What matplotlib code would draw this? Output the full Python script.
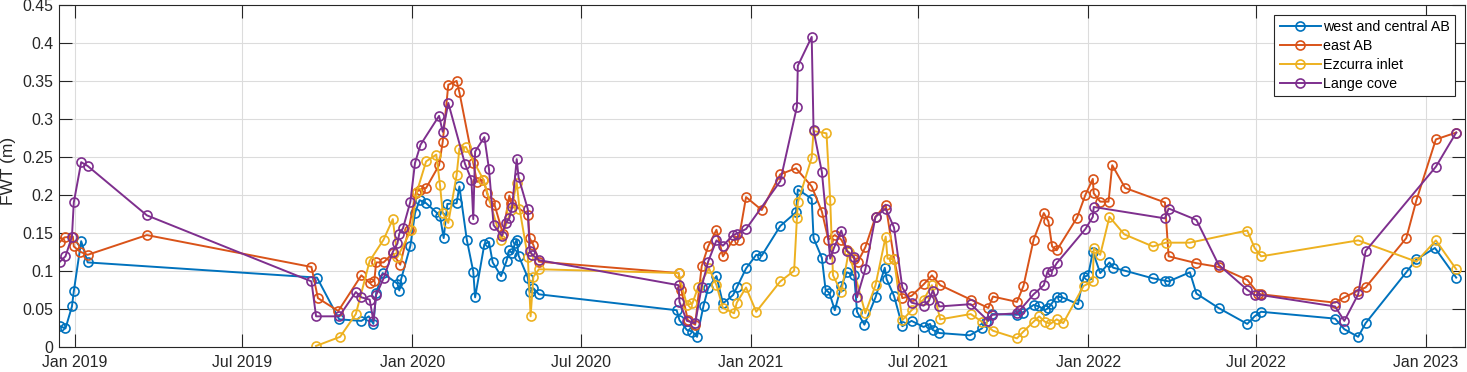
import matplotlib
matplotlib.use("Agg")
import matplotlib.pyplot as plt
import matplotlib.dates as mdates
import matplotlib.ticker as mticker
import pandas as pd

# ---- data: days since 2019-01-01, FWT (m) ----
base_date = "2019-01-01"

west_days = [-16, -10, -3, -1, 7, 14, 262, 286, 310, 318,
             323, 326, 333, 349, 351, 353, 363, 368, 373, 380,
             391, 395, 399, 403, 413, 416, 424, 431, 433, 443,
             448, 452, 461, 467, 470, 473, 476, 478, 480, 490,
             492, 496, 502, 651, 654, 662, 668, 673, 680, 685,
             694, 701, 712, 716, 726, 737, 743, 763, 780, 782,
             797, 799, 808, 812, 816, 822, 829, 835, 843, 846,
             854, 866, 876, 878, 886, 895, 905, 918, 925, 928,
             935, 968, 981, 986, 992, 1019, 1025, 1037, 1043, 1049,
             1053, 1056, 1062, 1068, 1085, 1091, 1096, 1101, 1109, 1119,
             1123, 1136, 1166, 1179, 1183, 1206, 1213, 1237, 1268, 1276,
             1283, 1363, 1373, 1388, 1396, 1440, 1451, 1471, 1494]
west_fwt = [0.027, 0.024, 0.053, 0.073, 0.139, 0.111, 0.091, 0.036, 0.034, 0.040,
            0.030, 0.071, 0.097, 0.083, 0.074, 0.089, 0.133, 0.176, 0.193, 0.189,
            0.177, 0.172, 0.143, 0.188, 0.189, 0.211, 0.141, 0.099, 0.065, 0.135,
            0.138, 0.111, 0.093, 0.113, 0.127, 0.123, 0.136, 0.141, 0.120, 0.091,
            0.072, 0.077, 0.069, 0.048, 0.035, 0.022, 0.020, 0.013, 0.054, 0.077,
            0.093, 0.057, 0.068, 0.078, 0.103, 0.121, 0.120, 0.159, 0.177, 0.207,
            0.195, 0.143, 0.117, 0.075, 0.071, 0.048, 0.080, 0.098, 0.094, 0.046,
            0.029, 0.065, 0.104, 0.089, 0.067, 0.027, 0.034, 0.026, 0.030, 0.022,
            0.018, 0.015, 0.024, 0.032, 0.043, 0.042, 0.045, 0.055, 0.053, 0.048,
            0.051, 0.056, 0.066, 0.065, 0.056, 0.092, 0.094, 0.125, 0.097, 0.111,
            0.104, 0.100, 0.090, 0.087, 0.086, 0.098, 0.070, 0.051, 0.030, 0.040,
            0.046, 0.037, 0.023, 0.013, 0.031, 0.098, 0.115, 0.130, 0.091]

east_days = [-16, -11, -2, -1, 6, 14, 78, 256, 263, 285,
             310, 319, 324, 326, 334, 344, 352, 361, 369, 373,
             380, 394, 398, 404, 413, 416, 431, 435, 442, 446,
             449, 454, 463, 470, 472, 490, 492, 496, 502, 653,
             656, 663, 671, 678, 685, 694, 701, 712, 718, 726,
             743, 763, 780, 797, 808, 815, 822, 829, 835, 843,
             847, 855, 866, 877, 886, 895, 905, 918, 927, 936,
             969, 988, 993, 1019, 1026, 1037, 1048, 1053, 1057, 1062,
             1084, 1093, 1101, 1102, 1109, 1118, 1122, 1136, 1179, 1183,
             1213, 1237, 1268, 1280, 1283, 1363, 1373, 1388, 1396, 1440,
             1451, 1472, 1494]
east_fwt = [0.138, 0.144, 0.145, 0.132, 0.125, 0.121, 0.147, 0.105, 0.064, 0.047,
            0.094, 0.084, 0.087, 0.111, 0.111, 0.123, 0.108, 0.154, 0.203, 0.207,
            0.209, 0.239, 0.270, 0.345, 0.350, 0.335, 0.242, 0.217, 0.220, 0.202,
            0.191, 0.187, 0.149, 0.199, 0.189, 0.174, 0.143, 0.134, 0.112, 0.097,
            0.075, 0.035, 0.029, 0.106, 0.132, 0.154, 0.119, 0.141, 0.141, 0.197,
            0.180, 0.227, 0.235, 0.211, 0.178, 0.141, 0.147, 0.141, 0.127, 0.116,
            0.112, 0.131, 0.171, 0.187, 0.116, 0.064, 0.067, 0.082, 0.094, 0.081,
            0.062, 0.051, 0.066, 0.059, 0.080, 0.141, 0.176, 0.165, 0.132, 0.127,
            0.170, 0.200, 0.221, 0.202, 0.191, 0.191, 0.239, 0.209, 0.190, 0.119,
            0.110, 0.105, 0.088, 0.070, 0.069, 0.058, 0.065, 0.074, 0.078, 0.143,
            0.193, 0.273, 0.282]

ezcurra_days = [261, 287, 304, 319, 334, 344, 349, 364, 370, 380,
                391, 395, 398, 404, 413, 416, 423, 442, 461, 472,
                478, 481, 490, 493, 496, 502, 653, 662, 668, 674,
                686, 694, 701, 713, 716, 726, 737, 763, 778, 781,
                782, 797, 799, 813, 817, 820, 829, 837, 855, 866,
                877, 879, 886, 895, 905, 918, 927, 936, 969, 981,
                993, 1019, 1026, 1037, 1043, 1049, 1055, 1062, 1069, 1091,
                1101, 1102, 1109, 1119, 1135, 1166, 1180, 1206, 1268, 1276,
                1283, 1388, 1451, 1472, 1494]
ezcurra_fwt = [0.001, 0.013, 0.043, 0.113, 0.141, 0.168, 0.118, 0.154, 0.204, 0.244,
               0.253, 0.213, 0.176, 0.163, 0.226, 0.261, 0.263, 0.220, 0.141, 0.180,
               0.216, 0.182, 0.118, 0.040, 0.092, 0.102, 0.097, 0.055, 0.057, 0.078,
               0.103, 0.081, 0.051, 0.044, 0.058, 0.078, 0.046, 0.086, 0.100, 0.169,
               0.190, 0.249, 0.284, 0.281, 0.193, 0.094, 0.072, 0.125, 0.044, 0.081,
               0.145, 0.116, 0.115, 0.035, 0.048, 0.062, 0.081, 0.036, 0.043, 0.033,
               0.021, 0.011, 0.020, 0.033, 0.040, 0.033, 0.030, 0.036, 0.031, 0.080,
               0.086, 0.130, 0.121, 0.171, 0.148, 0.132, 0.137, 0.137, 0.153, 0.130,
               0.119, 0.140, 0.112, 0.140, 0.102]

lange_days = [-16, -10, -3, -1, 7, 14, 78, 256, 261, 286,
              304, 310, 319, 323, 326, 334, 344, 349, 351, 355,
              363, 368, 374, 394, 398, 404, 422, 429, 431, 433,
              443, 448, 453, 462, 466, 470, 473, 478, 480, 490,
              492, 495, 502, 653, 654, 662, 671, 678, 685, 694,
              701, 712, 716, 726, 763, 781, 782, 797, 799, 808,
              817, 821, 829, 835, 843, 846, 855, 866, 877, 886,
              895, 905, 918, 924, 928, 935, 969, 988, 992, 1019,
              1022, 1037, 1048, 1052, 1057, 1062, 1093, 1101, 1102, 1179,
              1183, 1213, 1237, 1268, 1276, 1283, 1363, 1373, 1388, 1396,
              1472, 1494]
lange_fwt = [0.112, 0.119, 0.145, 0.190, 0.243, 0.238, 0.173, 0.086, 0.040, 0.040,
             0.072, 0.065, 0.062, 0.034, 0.068, 0.090, 0.125, 0.136, 0.149, 0.156,
             0.191, 0.242, 0.266, 0.304, 0.283, 0.321, 0.241, 0.220, 0.168, 0.257,
             0.276, 0.234, 0.160, 0.146, 0.163, 0.169, 0.184, 0.247, 0.223, 0.181,
             0.126, 0.121, 0.114, 0.081, 0.059, 0.034, 0.031, 0.079, 0.112, 0.140,
             0.133, 0.147, 0.149, 0.155, 0.218, 0.316, 0.370, 0.408, 0.285, 0.230,
             0.116, 0.130, 0.153, 0.126, 0.118, 0.065, 0.102, 0.171, 0.182, 0.157,
             0.078, 0.058, 0.054, 0.061, 0.074, 0.053, 0.056, 0.034, 0.042, 0.044,
             0.048, 0.069, 0.081, 0.099, 0.100, 0.110, 0.155, 0.171, 0.184, 0.169,
             0.182, 0.167, 0.108, 0.075, 0.068, 0.068, 0.053, 0.034, 0.069, 0.126,
             0.237, 0.282]

series_names = ["west and central AB", "east AB", "Ezcurra inlet", "Lange cove"]
series_colors = ["#0072BD", "#D95319", "#EDB120", "#7E2F8E"]

# ---- figure ----
plt.rcParams["font.family"] = ["Liberation Sans", "DejaVu Sans"]
fig = plt.figure(figsize=(14.67, 3.72), dpi=100)
ax = fig.add_axes([59 / 1467, 1 - 346.7 / 372, 1406 / 1467, 341.7 / 372])

t0 = pd.Timestamp(base_date)
all_series = [(west_days, west_fwt), (east_days, east_fwt),
              (ezcurra_days, ezcurra_fwt), (lange_days, lange_fwt)]
for (days, vals), name, col in zip(all_series, series_names, series_colors):
    dates = t0 + pd.to_timedelta(days, unit="D")
    ax.plot(dates, vals, "-o", color=col, lw=1.4, ms=6.5, mew=1.2,
            mfc="none", label=name)

ax.set_xlim(pd.Timestamp("2018-12-15"), pd.Timestamp("2023-02-12 12:00"))
ax.set_ylim(0, 0.45)
ax.xaxis.set_major_locator(mdates.MonthLocator(bymonth=[1, 7]))
ax.xaxis.set_major_formatter(mdates.DateFormatter("%b %Y"))
ax.yaxis.set_major_locator(mticker.MultipleLocator(0.05))
ax.yaxis.set_major_formatter(mticker.FuncFormatter(lambda v, p: ("%.2f" % v).rstrip("0").rstrip(".")))

edge = "#262626"
ax.grid(True, color="#dcdcdc", lw=0.8)
ax.set_axisbelow(True)
for s in ax.spines.values():
    s.set_color(edge)
    s.set_linewidth(0.8)
ax.tick_params(direction="in", top=True, right=True, length=9.5, width=0.8,
               colors=edge, labelsize=11.4)
ax.tick_params(axis="x", pad=6)
ax.tick_params(axis="y", pad=4)

ax.set_ylabel("FWT (m)", fontsize=12.5, color=edge, va="center")
ax.yaxis.set_label_coords(-0.0359, 0.514)

leg = ax.legend(loc="upper right", bbox_to_anchor=(0.9929, 0.9707), borderaxespad=0,
                fontsize=10.3, frameon=True, fancybox=False, framealpha=1,
                edgecolor=edge, handlelength=2.9, handletextpad=0.15,
                labelspacing=0.35, borderpad=0.35)
leg.get_frame().set_linewidth(0.8)

fig.savefig("out.png", dpi=100)
